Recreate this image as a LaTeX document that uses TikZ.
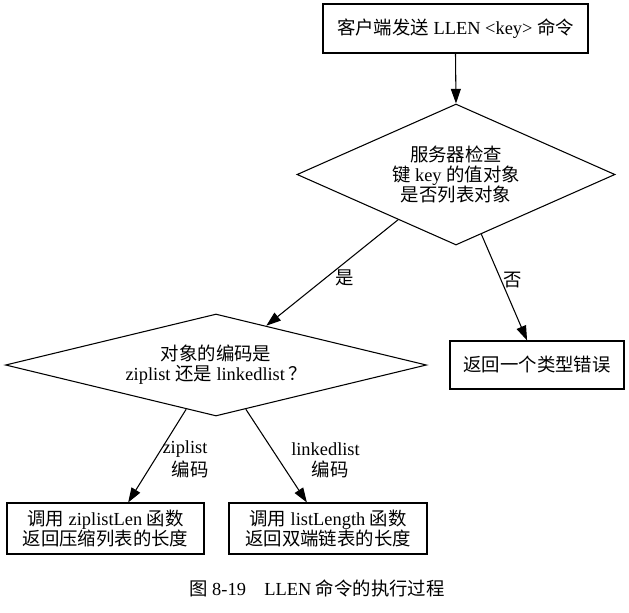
\documentclass[tikz,border=0pt]{standalone}
\usepackage{fontspec}
\setmainfont{Liberation Serif}
\newfontfamily\cjk{Noto Sans CJK SC}
\usetikzlibrary{arrows.meta,shapes.geometric}
\tikzset{
  txt/.style={font=\fontsize{13.8pt}{14.8pt}\selectfont, align=center, inner sep=0pt},
  boxnode/.style={txt, draw, line width=0.8pt, rectangle},
  decision/.style={txt, draw, line width=0.8pt, diamond},
  flow/.style={line width=0.8pt, -{Triangle[length=11pt,width=7.5pt]}},
}
\begin{document}
\begin{tikzpicture}[x=0.75pt,y=-0.75pt]
\useasboundingbox (0,0) rectangle (629,612);
\node[boxnode, minimum width=198.75pt, minimum height=36.75pt] (top) at (455.5,28.5)
  {{\cjk 客户端发送} LLEN <key> {\cjk 命令}};
\node[decision, shape aspect=2.25, minimum width=238.5pt, minimum height=105.75pt] (d1) at (456,174.5)
  {{\cjk 服务器检查}\\{\cjk 键} key {\cjk 的值对象}\\{\cjk 是否列表对象}};
\node[decision, shape aspect=4.1, minimum width=315.75pt, minimum height=76.5pt] (d2) at (216,365)
  {{\cjk 对象的编码是}\\ziplist {\cjk 还是} linkedlist\,{\cjk ？}};
\node[boxnode, minimum width=130.5pt, minimum height=36pt] (err) at (537,365)
  {{\cjk 返回一个类型错误}};
\node[boxnode, minimum width=147.75pt, minimum height=38.25pt] (b1) at (105.5,528.5)
  {{\cjk 调用} ziplistLen {\cjk 函数}\\{\cjk 返回压缩列表的长度}};
\node[boxnode, minimum width=148.5pt, minimum height=38.25pt] (b2) at (328,528.5)
  {{\cjk 调用} listLength {\cjk 函数}\\{\cjk 返回双端链表的长度}};

\draw[flow] (top.south) -- (d1.north);
\draw[flow] (d1.218.7) -- (d2.38.1);
\draw[flow] (d1.293.6) -- (err.112.6);
\draw[flow] (d2.236.3) -- (b1.49.9);
\draw[flow] (d2.304.6) -- (b2.129.5);

\node[txt] (lyes) at (345,278) {\cjk 是};
\node[txt] (lno) at (513,280) {\cjk 否};
\node[txt] (lzip) at (185,449) {ziplist};
\node[txt] (lzipb) at (190,469) {\cjk 编码};
\node[txt] (llink) at (325.5,449) {linkedlist};
\node[txt] (llinkb) at (330,469) {\cjk 编码};

\node[txt] (cap) at (317,588) {{\cjk 图} 8-19\hspace{1em}LLEN {\cjk 命令的执行过程}};
\end{tikzpicture}
\end{document}
